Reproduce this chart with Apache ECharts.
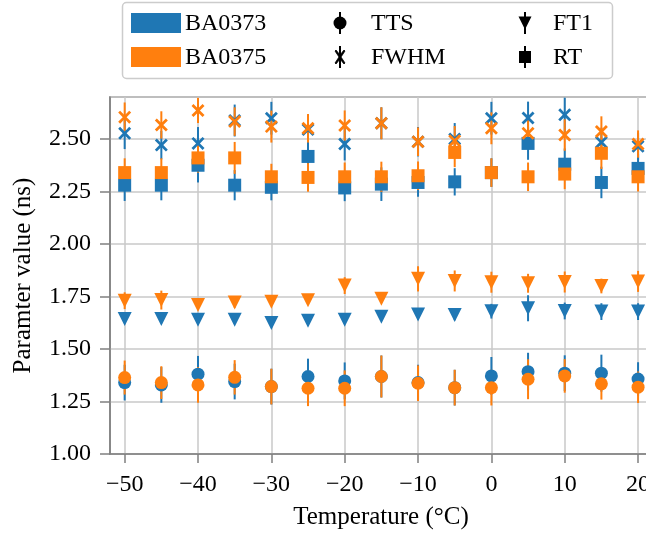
<!DOCTYPE html>
<html>
<head>
<meta charset="utf-8">
<script src="https://cdn.jsdelivr.net/npm/echarts@6/dist/echarts.min.js"></script>
<style>
html,body{margin:0;padding:0;background:#fff;}
#chart{width:646px;height:534px;}
</style>
</head>
<body>
<div id="chart"></div>
<script>
// ---- data ----
var temps = [-50,-45,-40,-35,-30,-25,-20,-15,-10,-5,0,5,10,15,20];
var xTicks = [-50,-40,-30,-20,-10,0,10,20];

var ttsA    = [1.340,1.329,1.380,1.345,1.321,1.369,1.348,1.369,1.340,1.316,1.372,1.392,1.385,1.385,1.357];
var ttsAErr = [0.085,0.085,0.087,0.085,0.085,0.085,0.088,0.100,0.085,0.085,0.090,0.090,0.085,0.088,0.080];
var ttsB    = [1.364,1.340,1.329,1.365,1.321,1.313,1.313,1.369,1.337,1.316,1.316,1.356,1.372,1.334,1.318];
var ttsBErr = [0.081,0.078,0.085,0.082,0.085,0.085,0.085,0.100,0.085,0.085,0.085,0.095,0.080,0.075,0.075];

var ft1A    = [1.643,1.643,1.639,1.639,1.624,1.635,1.639,1.654,1.664,1.662,1.680,1.694,1.681,1.678,1.678];
var ft1AErr = [0.020,0.020,0.020,0.020,0.020,0.020,0.020,0.020,0.025,0.025,0.035,0.062,0.040,0.040,0.040];
var ft1B    = [1.730,1.733,1.709,1.722,1.725,1.732,1.802,1.739,1.834,1.824,1.818,1.813,1.819,1.800,1.822];
var ft1BErr = [0.040,0.045,0.020,0.025,0.020,0.020,0.040,0.020,0.060,0.050,0.050,0.045,0.050,0.035,0.050];

var fwhmA    = [2.527,2.471,2.479,2.588,2.599,2.545,2.476,2.575,2.487,2.500,2.599,2.600,2.615,2.484,2.465];
var fwhmAErr = [0.075,0.068,0.078,0.076,0.078,0.070,0.078,0.076,0.070,0.076,0.078,0.078,0.082,0.070,0.065];
var fwhmB    = [2.604,2.567,2.636,2.583,2.559,2.551,2.564,2.575,2.487,2.492,2.551,2.527,2.519,2.536,2.476];
var fwhmBErr = [0.070,0.065,0.060,0.068,0.076,0.068,0.072,0.076,0.068,0.070,0.076,0.072,0.075,0.072,0.065];

var rtA    = [2.280,2.280,2.375,2.280,2.270,2.417,2.267,2.285,2.293,2.296,2.340,2.479,2.380,2.293,2.360];
var rtAErr = [0.075,0.072,0.082,0.072,0.062,0.070,0.063,0.080,0.068,0.065,0.068,0.078,0.075,0.075,0.070];
var rtB    = [2.340,2.340,2.410,2.410,2.320,2.317,2.320,2.320,2.325,2.436,2.340,2.320,2.333,2.432,2.320];
var rtBErr = [0.068,0.068,0.070,0.076,0.062,0.068,0.068,0.072,0.068,0.070,0.068,0.068,0.072,0.075,0.070];

var BLUE = '#1f77b4', ORANGE = '#ff7f0e';
var FONT = 'Liberation Serif';
var FS = 24;
var XPATH = 'path://M0,1.5 L1.5,0 L5,3.5 L8.5,0 L10,1.5 L6.5,5 L10,8.5 L8.5,10 L5,6.5 L1.5,10 L0,8.5 L3.5,5 Z';

function pts(vals, errs) {
  return temps.map(function (t, i) { return [t, vals[i], errs[i]]; });
}
function errSeries(vals, errs, color) {
  return {
    type: 'custom',
    data: pts(vals, errs),
    encode: { x: 0, y: 1 },
    renderItem: function (params, api) {
      var x = api.value(0), y = api.value(1), e = api.value(2);
      var p1 = api.coord([x, y - e]);
      var p2 = api.coord([x, y + e]);
      return {
        type: 'line',
        shape: { x1: p1[0], y1: p1[1], x2: p2[0], y2: p2[1] },
        style: { stroke: color, lineWidth: 2 }
      };
    },
    silent: true
  };
}
function markSeries(vals, errs, color, symbol, size, rotate) {
  return {
    type: 'scatter',
    data: pts(vals, errs),
    encode: { x: 0, y: 1 },
    symbol: symbol,
    symbolSize: size,
    symbolRotate: rotate || 0,
    itemStyle: { color: color, opacity: 1 },
    silent: true
  };
}

var params = [
  [ttsA, ttsAErr, ttsB, ttsBErr, 'circle', 13, 0],
  [fwhmA, fwhmAErr, fwhmB, fwhmBErr, XPATH, 13, 0],
  [ft1A, ft1AErr, ft1B, ft1BErr, 'triangle', 14, 180],
  [rtA, rtAErr, rtB, rtBErr, 'rect', 13, 0]
];
var series = [];
params.forEach(function (p) {
  series.push(errSeries(p[0], p[1], BLUE));
  series.push(markSeries(p[0], p[1], BLUE, p[4], p[5], p[6]));
});
params.forEach(function (p) {
  series.push(errSeries(p[2], p[3], ORANGE));
  series.push(markSeries(p[2], p[3], ORANGE, p[4], p[5], p[6]));
});

// legend drawn as graphic
var lx1 = 340, lx2 = 525, r1 = 23, r2 = 57;
function vline(x, y) {
  return { type: 'line', shape: { x1: x, y1: y - 11, x2: x, y2: y + 11 }, style: { stroke: '#000', lineWidth: 2 }, z: 101 };
}
function ltext(x, y, s) {
  return { type: 'text', x: x, y: y, z: 101, style: { text: s, font: FS + 'px "' + FONT + '"', fill: '#000', verticalAlign: 'middle', align: 'left' } };
}
var graphic = [
  { type: 'rect', shape: { x: 122.5, y: 2.5, width: 490, height: 76, r: 4 }, style: { fill: 'rgba(255,255,255,0.8)', stroke: '#cccccc', lineWidth: 1.5 }, z: 100 },
  { type: 'rect', shape: { x: 131, y: 13, width: 50, height: 20 }, style: { fill: BLUE }, z: 101 },
  { type: 'rect', shape: { x: 131, y: 47, width: 50, height: 20 }, style: { fill: ORANGE }, z: 101 },
  ltext(185, r1 + 1, 'BA0373'),
  ltext(185, r2 + 1, 'BA0375'),
  vline(lx1, r1),
  { type: 'circle', shape: { cx: lx1, cy: r1, r: 6.5 }, style: { fill: '#000' }, z: 101 },
  ltext(371, r1 + 1, 'TTS'),
  vline(lx1, r2),
  { type: 'polygon', shape: { points: [[lx1-5,r2-6],[lx1-4,r2-7],[lx1,r2-2],[lx1+4,r2-7],[lx1+5,r2-6],[lx1+1,r2],[lx1+5,r2+6],[lx1+4,r2+7],[lx1,r2+2],[lx1-4,r2+7],[lx1-5,r2+6],[lx1-1,r2]] }, style: { fill: '#000', stroke: '#000', lineWidth: 0.8 }, z: 101 },
  ltext(371, r2 + 1, 'FWHM'),
  vline(lx2, r1),
  { type: 'polygon', shape: { points: [[lx2-6.5,r1-6.5],[lx2+6.5,r1-6.5],[lx2,r1+6.5]] }, style: { fill: '#000' }, z: 101 },
  ltext(553, r1 + 1, 'FT1'),
  vline(lx2, r2),
  { type: 'rect', shape: { x: lx2 - 6, y: r2 - 6, width: 12, height: 12 }, style: { fill: '#000' }, z: 101 },
  ltext(553, r2 + 1, 'RT')
];

var chart = echarts.init(document.getElementById('chart'), null, { renderer: 'canvas' });
chart.setOption({
  animation: false,
  backgroundColor: '#fff',
  grid: { left: 110, top: 97, width: 542, height: 357, outerBoundsMode: 'none', containLabel: false,
          show: true, borderColor: '#808080', borderWidth: 1.5, backgroundColor: 'transparent' },
  xAxis: {
    type: 'value', min: -52, max: 21.9,
    name: 'Temperature (°C)', nameLocation: 'middle', nameGap: 51,
    nameTextStyle: { fontFamily: FONT, fontSize: 25, color: '#000' },
    axisLine: { show: true, onZero: false, lineStyle: { color: '#808080', width: 1.5 } },
    axisTick: { show: true, length: 9, customValues: xTicks, lineStyle: { color: '#808080', width: 1.5 } },
    axisLabel: { customValues: xTicks, margin: 19, fontFamily: FONT, fontSize: FS, color: '#000',
      formatter: function (v) { return v < 0 ? '\u2212' + Math.abs(v) : String(v); } },
    splitLine: { show: true, lineStyle: { color: '#c8c8c8', width: 1.5 } }
  },
  yAxis: {
    type: 'value', min: 1.0, max: 2.70, interval: 0.25,
    name: 'Paramter value (ns)', nameLocation: 'middle', nameGap: 74, nameRotate: 90,
    nameTextStyle: { fontFamily: FONT, fontSize: 25, color: '#000' },
    axisLine: { show: true, onZero: false, lineStyle: { color: '#808080', width: 1.5 } },
    axisTick: { show: true, length: 10, lineStyle: { color: '#808080', width: 1.5 } },
    axisLabel: { margin: 19, fontFamily: FONT, fontSize: FS, color: '#000', showMaxLabel: false,
      formatter: function (v) { return v.toFixed(2); } },
    splitLine: { show: true, lineStyle: { color: '#c8c8c8', width: 1.5 } }
  },
  graphic: graphic,
  series: series
});
</script>
</body>
</html>
